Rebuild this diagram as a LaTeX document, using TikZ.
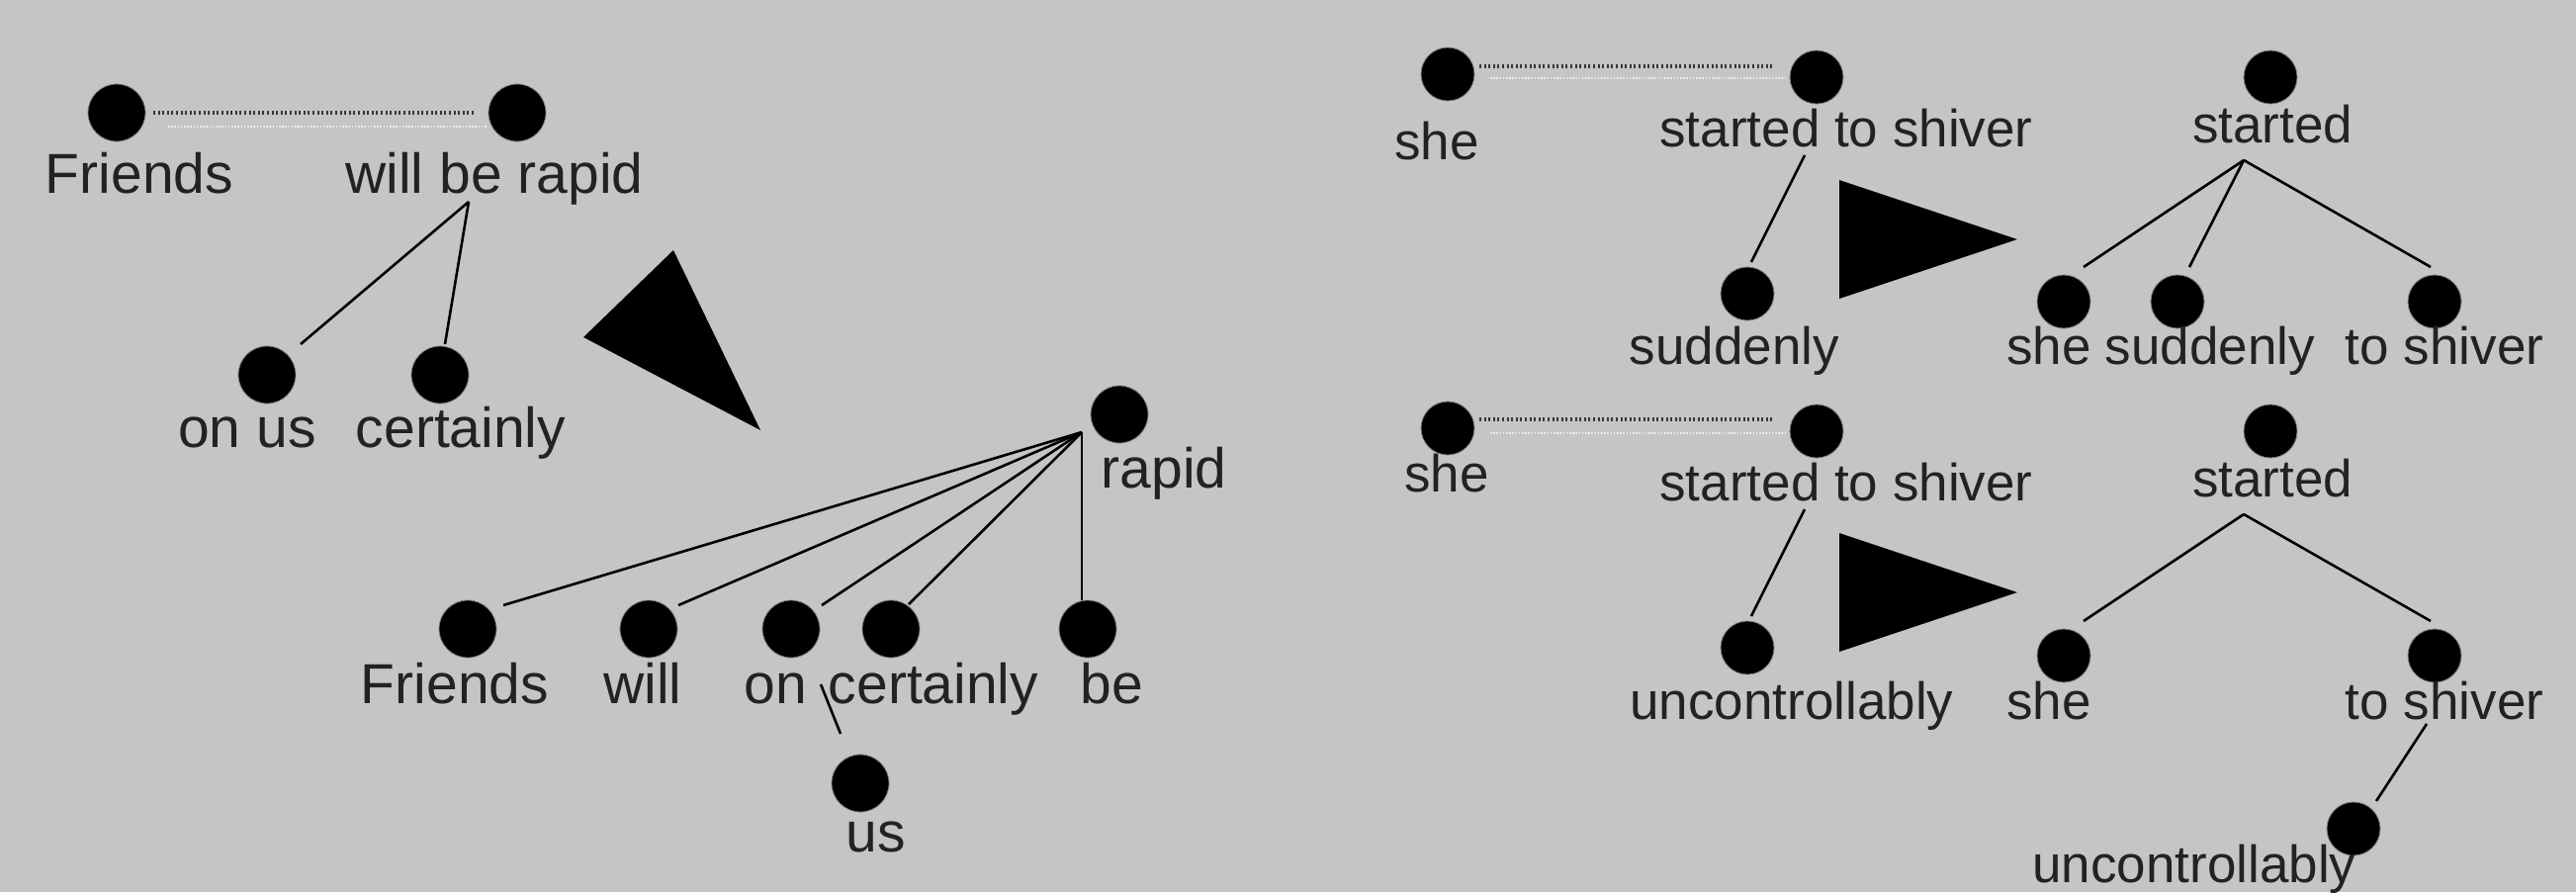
\documentclass[tikz,border=0pt]{standalone}
\usepackage{fontspec}
\setmainfont{Liberation Sans}
\usetikzlibrary{calc}
\definecolor{bg}{RGB}{196,197,196}
\definecolor{txt}{RGB}{34,34,34}
\begin{document}
\begin{tikzpicture}[x=0.5pt,y=-0.5pt,
  dotL/.style={circle,fill=black,draw=gray,line width=0.4pt,minimum size=29pt,inner sep=0pt},
  dotR/.style={dotL,minimum size=27pt},
  lblL/.style={anchor=base,inner sep=0pt,text=txt,font=\fontsize{28.5}{34}\selectfont},
  lblR/.style={anchor=base,inner sep=0pt,text=txt,font=\fontsize{26.5}{32}\selectfont},
  edge/.style={line width=1.3pt,draw=black},
  dotline/.style={line width=1.8pt,draw=black!78,dash pattern=on 1pt off 1.3pt},
  dotlinelight/.style={line width=1.1pt,draw=white!85!gray,dash pattern=on 0.8pt off 0.8pt},
  tri/.style={fill=black}]
\useasboundingbox (0,0) rectangle (2605,902);
\fill[bg] (0,0) rectangle (2605,902);

% ---------- left top tree ----------
\node[dotL] (fr) at (118,114) {};
\node[lblL] (frT) at (141,195) {Friends};
\node[dotL] (wbr) at (523,114) {};
\node[lblL] (wbrT) at (500,195) {will be rapid};
\draw[dotline] ($(fr)+(37,0)$) -- ($(wbr)+(-44,0)$);
\draw[dotlinelight] ($(fr)+(52,14)$) -- ($(wbr)+(-30,14)$);
\coordinate (hub1) at ($(wbr)+(-49,90)$);
\node[dotL] (onus) at (270,379) {};
\node[lblL] (onusT) at (250,452) {on us};
\node[dotL] (cert) at (445,379) {};
\node[lblL] (certT) at (466,452) {certainly};
\draw[edge] (hub1) -- ($(onus)+(34,-31)$);
\draw[edge] (hub1) -- ($(cert)+(5,-31)$);

% left triangle
\fill[tri] (590,341) -- (681,253) -- (769,435) -- cycle;

% ---------- left bottom tree ----------
\node[dotL] (rap) at (1132,419) {};
\node[lblL] (rapT) at (1177,493) {rapid};
\coordinate (hub2) at ($(rap)+(-38,18)$);
\node[dotL] (fr2) at (473,636) {};
\node[lblL] (fr2T) at (460,711) {Friends};
\node[dotL] (will) at (656,636) {};
\node[lblL] (willT) at (650,711) {will};
\node[dotL] (on) at (800,636) {};
\node[lblL] (onT) at (784,711) {on};
\node[dotL] (cert2) at (901,636) {};
\node[lblL] (cert2T) at (944,711) {certainly};
\node[dotL] (be) at (1100,636) {};
\node[lblL] (beT) at (1124,711) {be};
\node[dotL] (us) at (870,792) {};
\node[lblL] (usT) at (886,861) {us};
\draw[edge] (hub2) -- ($(fr2)+(36,-24)$);
\draw[edge] (hub2) -- ($(will)+(30,-24)$);
\draw[edge] (hub2) -- ($(on)+(31,-24)$);
\draw[edge] (hub2) -- ($(cert2)+(18,-25)$);
\draw[edge] (hub2) -- ($(be)+(-6,-29)$);
\draw[edge] ($(on)+(30,56)$) -- ($(us)+(-20,-50)$);

% ---------- right upper ----------
\node[dotR] (she1) at (1464,75) {};
\node[lblR] (she1T) at (1453,161) {she};
\node[dotR] (sts1) at (1837,78) {};
\node[lblR] (sts1T) at (1867,148) {started to shiver};
\draw[dotline] ($(she1)+(32,-8)$) -- ($(sts1)+(-43,-11)$);
\draw[dotlinelight] ($(she1)+(43,4)$) -- ($(sts1)+(-30,1)$);
\node[dotR] (st1) at (2296,78) {};
\node[lblR] (st1T) at (2298,144) {started};
\node[dotR] (sud1) at (1767,297) {};
\node[lblR] (sud1T) at (1754,368) {suddenly};
\draw[edge] ($(sts1)+(-12,79)$) -- ($(sud1)+(4,-32)$);
\fill[tri] (1860,182) -- (2040,242) -- (1860,302) -- cycle;
\coordinate (hub3) at ($(st1)+(-27,84)$);
\node[dotR] (she2) at (2087,305) {};
\node[lblR] (she2T) at (2072,368) {she};
\node[dotR] (sud2) at (2202,305) {};
\node[lblR] (sud2T) at (2235,368) {suddenly};
\node[dotR] (tosh2) at (2462,305) {};
\node[lblR] (tosh2T) at (2472,368) {to shiver};
\draw[edge] (hub3) -- ($(she2)+(20,-35)$);
\draw[edge] (hub3) -- ($(sud2)+(12,-35)$);
\draw[edge] (hub3) -- ($(tosh2)+(-4,-35)$);

% ---------- right lower ----------
\node[dotR] (she3) at (1464,433) {};
\node[lblR] (she3T) at (1463,497) {she};
\node[dotR] (sts3) at (1837,436) {};
\node[lblR] (sts3T) at (1867,506) {started to shiver};
\draw[dotline] ($(she3)+(32,-9)$) -- ($(sts3)+(-43,-12)$);
\draw[dotlinelight] ($(she3)+(43,5)$) -- ($(sts3)+(-30,2)$);
\node[dotR] (st3) at (2296,436) {};
\node[lblR] (st3T) at (2298,502) {started};
\node[dotR] (unc1) at (1767,655) {};
\node[lblR] (unc1T) at (1812,727) {uncontrollably};
\draw[edge] ($(sts3)+(-12,79)$) -- ($(unc1)+(4,-32)$);
\fill[tri] (1860,539) -- (2040,599) -- (1860,659) -- cycle;
\coordinate (hub4) at ($(st3)+(-27,84)$);
\node[dotR] (she4) at (2087,663) {};
\node[lblR] (she4T) at (2072,727) {she};
\node[dotR] (tosh4) at (2462,663) {};
\node[lblR] (tosh4T) at (2472,727) {to shiver};
\draw[edge] (hub4) -- ($(she4)+(20,-35)$);
\draw[edge] (hub4) -- ($(tosh4)+(-4,-35)$);
\node[dotR] (unc2) at (2380,838) {};
\node[lblR] (unc2T) at (2219,892) {uncontrollably};
\draw[edge] ($(tosh4)+(-8,69)$) -- ($(unc2)+(23,-28)$);
\end{tikzpicture}
\end{document}
